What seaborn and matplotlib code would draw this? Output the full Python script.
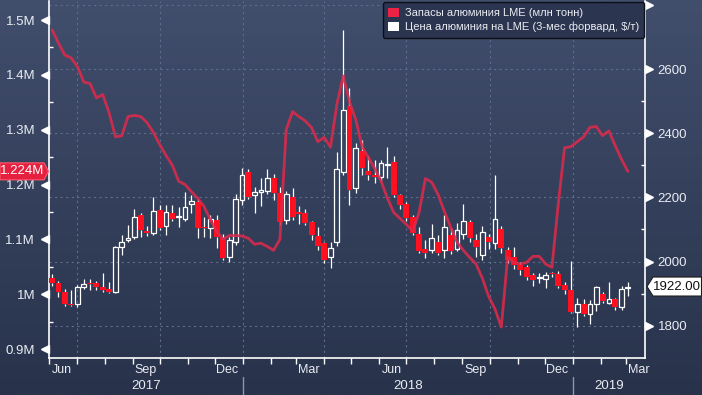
import numpy as np
import pandas as pd
import matplotlib
matplotlib.use("Agg")
import matplotlib.pyplot as plt
import matplotlib.dates as mdates
import matplotlib.transforms as mtransforms
from matplotlib.patches import Patch, Polygon
from matplotlib.colors import LinearSegmentedColormap
import seaborn as sns

# weekly data, Jun 2017 - Mar 2019
weeks = pd.date_range("2017-06-04", periods=92, freq="7D")

# LME aluminium stocks, mln t (left axis)
stocks = [1.482, 1.458, 1.436, 1.431, 1.415, 1.387, 1.384, 1.358, 1.364, 1.331,
          1.287, 1.289, 1.324, 1.326, 1.324, 1.313, 1.295, 1.273, 1.253, 1.235,
          1.206, 1.200, 1.187, 1.175, 1.160, 1.136, 1.115, 1.100, 1.107, 1.107,
          1.106, 1.102, 1.091, 1.093, 1.087, 1.080, 1.100, 1.300, 1.333, 1.324,
          1.316, 1.304, 1.278, 1.286, 1.268, 1.346, 1.398, 1.351, 1.318, 1.269,
          1.249, 1.229, 1.206, 1.175, 1.149, 1.138, 1.127, 1.115, 1.149, 1.211,
          1.204, 1.182, 1.151, 1.122, 1.095, 1.080, 1.067, 1.055, 1.029, 0.996,
          0.973, 0.940, 1.067, 1.058, 1.055, 1.058, 1.069, 1.069, 1.055, 1.049,
          1.164, 1.267, 1.269, 1.278, 1.287, 1.304, 1.306, 1.289, 1.298, 1.271,
          1.246, 1.224]

# LME 3M aluminium price, $/t (right axis), weekly OHLC
price_open = [1950, 1932, 1904, 1866, 1869, 1919, 1932, 1932, 1919, 1913,
              1906, 2045, 2067, 2076, 2145, 2095, 2089, 2161, 2110, 2151,
              2139, 2132, 2180, 2186, 2107, 2104, 2129, 2073, 2013, 2060,
              2192, 2280, 2208, 2217, 2220, 2261, 2214, 2129, 2202, 2154,
              2151, 2123, 2079, 2057, 2013, 2060, 2280, 2484, 2230, 2346,
              2283, 2270, 2264, 2302, 2311, 2208, 2180, 2139, 2085, 2038,
              2035, 2060, 2035, 2082, 2038, 2085, 2123, 2067, 2020, 2076,
              2057, 2101, 2035, 2013, 1988, 1982, 1957, 1950, 1944, 1963,
              1960, 1928, 1910, 1844, 1869, 1835, 1869, 1900, 1872, 1882,
              1857, 1916]
price_close = [1932, 1904, 1866, 1863, 1919, 1929, 1929, 1919, 1910, 1906,
               2045, 2060, 2073, 2139, 2098, 2089, 2158, 2104, 2154, 2132,
               2139, 2170, 2189, 2104, 2104, 2132, 2076, 2010, 2067, 2195,
               2271, 2201, 2217, 2224, 2261, 2214, 2123, 2211, 2139, 2148,
               2120, 2082, 2048, 2004, 2042, 2289, 2474, 2223, 2355, 2292,
               2270, 2264, 2308, 2305, 2208, 2176, 2136, 2089, 2032, 2026,
               2073, 2026, 2107, 2032, 2098, 2126, 2073, 2045, 2092, 2060,
               2132, 2042, 2004, 1988, 1973, 1951, 1941, 1951, 1957, 1960,
               1925, 1910, 1841, 1866, 1835, 1869, 1919, 1878, 1882, 1857,
               1913, 1922]
price_high = [1960, 1938, 1915, 1910, 1926, 1947, 1944, 1938, 1963, 1935,
              2050, 2082, 2114, 2165, 2152, 2110, 2202, 2176, 2176, 2176,
              2170, 2217, 2208, 2195, 2139, 2145, 2145, 2085, 2076, 2211,
              2292, 2289, 2233, 2261, 2290, 2274, 2233, 2220, 2230, 2173,
              2163, 2126, 2107, 2060, 2060, 2343, 2722, 2543, 2371, 2380,
              2330, 2318, 2318, 2358, 2330, 2210, 2186, 2145, 2107, 2067,
              2117, 2082, 2145, 2104, 2120, 2180, 2130, 2085, 2110, 2085,
              2271, 2110, 2045, 2045, 2000, 1990, 1965, 1963, 1966, 1966,
              1970, 1935, 2001, 1885, 1882, 1880, 1925, 1905, 1935, 1885,
              1925, 1935]
price_low = [1925, 1890, 1862, 1860, 1857, 1913, 1910, 1910, 1906, 1903,
             1903, 2020, 2060, 2070, 2076, 2080, 2082, 2098, 2082, 2126,
             2107, 2126, 2151, 2073, 2076, 2073, 2041, 2004, 1998, 2051,
             2176, 2195, 2151, 2173, 2211, 2192, 2114, 2117, 2130, 2117,
             2114, 2067, 2035, 1995, 1979, 2050, 2270, 2176, 2214, 2270,
             2255, 2245, 2250, 2260, 2200, 2165, 2126, 2082, 2026, 2010,
             2026, 2020, 2010, 2023, 2032, 2070, 2060, 2013, 2004, 2040,
             2040, 2026, 1995, 1976, 1957, 1941, 1925, 1932, 1916, 1951,
             1916, 1900, 1838, 1795, 1830, 1806, 1847, 1870, 1866, 1850,
             1850, 1891]

stock_label = "Запасы алюминия LME (млн тонн)"
price_label = "Цена алюминия на LME (3-мес форвард, $/т)"
stock_ticks = [0.9, 1.0, 1.1, 1.2, 1.3, 1.4, 1.5]
stock_minor = [0.95, 1.05, 1.15, 1.25, 1.35, 1.45]
price_ticks = [1800, 2000, 2200, 2400, 2600, 2800]
price_minor = [1900, 2100, 2300, 2500, 2700]
years = [2017, 2018, 2019]

sns.set_theme(style="dark")
plt.rcParams["font.family"] = ["Liberation Sans", "DejaVu Sans"]

BG_TOP = "#414e6c"
BG_BOT = "#28324b"
RED = "#ff1020"
LINE = "#dc2a4c"
GRID = "#5e6d8c"
TXT = "#e9ecf2"

W, H = 702, 395
fig = plt.figure(figsize=(W / 100, H / 100), dpi=100)

# gradient background
bg = fig.add_axes([0, 0, 1, 1], zorder=-10)
cmap = LinearSegmentedColormap.from_list("bg", [BG_TOP, BG_BOT])
bg.imshow(np.linspace(0, 1, 256).reshape(-1, 1), aspect="auto", cmap=cmap,
          extent=[0, 1, 0, 1])
bg.axis("off")

ax = fig.add_axes([49 / W, 37 / H, 596 / W, 357 / H])   # price (ticks on right)
ax.set_facecolor("none")
ax2 = ax.twinx()                                      # stocks (ticks on left)

x = mdates.date2num(weeks)
o = np.array(price_open, float)
c = np.array(price_close, float)
h = np.array(price_high, float)
l = np.array(price_low, float)
up = c >= o
top = np.maximum(o, c)
bot = np.minimum(o, c)

# grid
for d in pd.date_range("2017-07-01", "2019-01-01", freq="QS-JAN"):
    ax.axvline(mdates.date2num(d), color=GRID, lw=0.8, ls=(0, (2, 3)), zorder=0)
for p in price_ticks:
    ax.axhline(p, color=GRID, lw=0.8, ls=(0, (2, 3)), zorder=0)

# candles
ax.vlines(x, top, h, color="white", lw=0.9, zorder=2)
ax.vlines(x, l, bot, color="white", lw=0.9, zorder=2)
body = np.maximum(top - bot, 2.5)
ax.bar(x[up], body[up], bottom=bot[up], width=5.2, facecolor="none",
       edgecolor="white", lw=0.9, zorder=3)
ax.bar(x[~up], body[~up], bottom=bot[~up], width=6.6, color=RED, lw=0,
       zorder=3)

# stocks line
sns.lineplot(x=x, y=stocks, ax=ax2, color=LINE, lw=2, alpha=0.88)
ax2.set_xlabel("")
ax2.set_ylabel("")

x0 = pd.Timestamp("2017-05-31 12:00")
x1 = pd.Timestamp("2019-03-22")
ax.set_xlim(mdates.date2num(x0), mdates.date2num(x1))
ax.set_ylim(1699, 2813)
ax2.set_ylim(0.8836, 1.5347)

# axes styling
for a in (ax, ax2):
    a.grid(False)
    for s in a.spines.values():
        s.set_visible(False)
for s in ("left", "bottom", "right"):
    ax.spines[s].set_visible(True)
    ax.spines[s].set_color("white")
    ax.spines[s].set_linewidth(1.2)

ax.xaxis.set_major_locator(mdates.MonthLocator())
ax.xaxis.set_major_formatter(plt.NullFormatter())
ax.xaxis.set_minor_locator(mdates.MonthLocator(bymonth=[3, 6, 9, 12], bymonthday=15))
ax.xaxis.set_minor_formatter(mdates.DateFormatter("%b"))
ax.tick_params(axis="x", which="major", direction="out", length=4, width=1,
               color="white", bottom=True)
ax.tick_params(axis="x", which="minor", length=0, pad=4, labelsize=9,
               labelcolor=TXT, bottom=True)

ax.yaxis.tick_right()
ax.set_yticks(price_ticks)
ax.set_yticklabels([str(p) if p < 2800 else "" for p in price_ticks])
ax.set_yticks(price_minor, minor=True)
ax.tick_params(axis="y", which="major", length=0, pad=9, labelsize=9.5,
               labelcolor=TXT, right=True, left=False)
ax.tick_params(axis="y", which="minor", direction="in", length=3, width=1,
               color="white", right=True, left=False)

ax2.yaxis.tick_left()
ax2.set_yticks(stock_ticks)
ax2.set_yticklabels([f"{v:g}M" for v in stock_ticks])
ax2.set_yticks(stock_minor, minor=True)
ax2.tick_params(axis="y", which="major", length=0, pad=10, labelsize=9.5,
                labelcolor=TXT, left=True, right=False)
ax2.tick_params(axis="y", which="minor", direction="in", length=3, width=1,
                color="white", left=True, right=False)

# triangle tick markers
off_l = mtransforms.ScaledTranslation(-2.6 / 72, 0, fig.dpi_scale_trans)
off_r = mtransforms.ScaledTranslation(2.6 / 72, 0, fig.dpi_scale_trans)
tl = mtransforms.blended_transform_factory(ax2.transAxes, ax2.transData)
tr = mtransforms.blended_transform_factory(ax.transAxes, ax.transData)
ax2.plot([0] * len(stock_ticks), stock_ticks, ls="none", marker="<", ms=5.5,
         color="white", clip_on=False, transform=tl + off_l)
ax.plot([1] * len(price_ticks), price_ticks, ls="none", marker=">", ms=5.5,
        color="white", clip_on=False, transform=tr + off_r)

# year labels and separators
tb = mtransforms.blended_transform_factory(ax.transData, ax.transAxes)
for yr in years:
    a = max(pd.Timestamp(f"{yr}-01-01"), x0)
    b = min(pd.Timestamp(f"{yr + 1}-01-01"), x1)
    mid = a + (b - a) / 2
    ax.text(mdates.date2num(mid), -0.078, str(yr), transform=tb, ha="center",
            va="center", fontsize=9.5, color=TXT)
    if yr > years[0]:
        xs = mdates.date2num(pd.Timestamp(f"{yr}-01-01"))
        ax.plot([xs, xs], [-0.053, -0.11], transform=tb, color="#8a97ad",
                lw=1, clip_on=False)

# legend
handles = [Patch(facecolor="#ee2244", edgecolor="none"),
           Patch(facecolor="white", edgecolor="none")]
leg = ax2.legend(handles, [stock_label, price_label], loc="upper right",
                 bbox_to_anchor=(0.999, 0.997), borderaxespad=0, fontsize=8,
                 frameon=True, fancybox=True, facecolor="#2b3550",
                 edgecolor="#0c0f18", framealpha=1, labelcolor=TXT,
                 handlelength=0.95, handleheight=0.95, handletextpad=0.5,
                 borderpad=0.5, labelspacing=0.3)
leg.get_frame().set_linewidth(1)

# value tags
inv = fig.transFigure.inverted()
yl = ax2.transData.transform((0, stocks[-1]))[1]
pts = [(0, yl + 8.5), (44, yl + 8.5), (48.5, yl), (44, yl - 8.5), (0, yl - 8.5)]
fig.add_artist(Polygon(inv.transform(pts), closed=True, transform=fig.transFigure,
                       facecolor="#e6203f", edgecolor="#ff5a6e", lw=0.8))
fx, fy = inv.transform((22.5, yl))
fig.text(fx, fy, f"{stocks[-1]:.3f}M", ha="center", va="center", fontsize=9.5,
         color="white")

yr_ = ax.transData.transform((0, price_close[-1]))[1]
pts = [(647, yr_), (653, yr_ + 9.5), (701.5, yr_ + 9.5), (701.5, yr_ - 9.5),
       (653, yr_ - 9.5)]
fig.add_artist(Polygon(inv.transform(pts), closed=True, transform=fig.transFigure,
                       facecolor="white", edgecolor="#1a1a1a", lw=0.8))
fx, fy = inv.transform((676.5, yr_))
fig.text(fx, fy, f"{price_close[-1]:.2f}", ha="center", va="center",
         fontsize=9.5, color="#111111")

fig.savefig("out.png", dpi=100)
